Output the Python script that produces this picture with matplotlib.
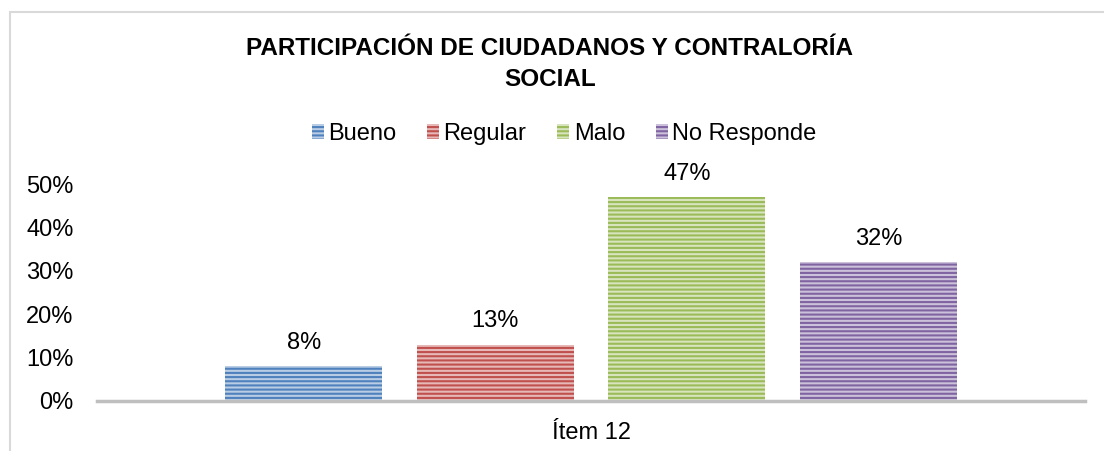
import matplotlib.pyplot as plt
from matplotlib.patches import Rectangle
from matplotlib.ticker import PercentFormatter

categories = ["Bueno", "Regular", "Malo", "No Responde"]
values = [0.08, 0.13, 0.47, 0.32]
labels = ["8%", "13%", "47%", "32%"]
group_label = "Ítem 12"

dark = ["#4F81BD", "#C0504D", "#9BBB59", "#8064A2"]
light = ["#B9CDE5", "#E6B9B8", "#D7E4BD", "#CCC1DA"]

plt.rcParams["font.family"] = ["Liberation Sans", "DejaVu Sans"]
plt.rcParams["hatch.linewidth"] = 1.5

fig = plt.figure(figsize=(11.04, 4.51), dpi=100)
ax = fig.add_axes([0.0879, 0.1109, 0.895, 0.481])

# chart area border (left and top only visible)
fig.patches.append(
    Rectangle((10 / 1104, -0.1), 1.2, 1 - 12 / 451 + 0.1, transform=fig.transFigure,
              fill=False, edgecolor="#D9D9D9", linewidth=1.5)
)

x = range(len(categories))
bars = ax.bar(x, values, width=0.82, color=light, edgecolor=dark,
              hatch="----", linewidth=0)
for b, name in zip(bars, categories):
    b.set_label(name)

for xi, v, t in zip(x, values, labels):
    ax.text(xi, v + 0.028, t, ha="center", va="bottom", fontsize=17)

ax.set_xlim(-1.08, 4.08)
ax.set_ylim(0, 0.5)
ax.set_yticks([0, 0.1, 0.2, 0.3, 0.4, 0.5])
ax.yaxis.set_major_formatter(PercentFormatter(1.0, decimals=0))
ax.tick_params(axis="y", length=0, labelsize=17, pad=17)
ax.set_xticks([1.5])
ax.set_xticklabels([group_label])
ax.tick_params(axis="x", length=0, labelsize=17, pad=15)

for s in ["top", "right", "left"]:
    ax.spines[s].set_visible(False)
ax.spines["bottom"].set_color("#BFBFBF")
ax.spines["bottom"].set_linewidth(2.5)

fig.text(0.498, 0.858, "PARTICIPACIÓN DE CIUDADANOS Y CONTRALORÍA\nSOCIAL",
         ha="center", va="center", fontsize=17.5, fontweight="bold",
         linespacing=1.4)

leg = fig.legend(handles=bars, labels=categories, loc="center",
                 bbox_to_anchor=(0.511, 0.703), ncol=4, frameon=False,
                 fontsize=17, handlelength=0.5, handleheight=0.6,
                 handletextpad=0.2, columnspacing=1.3)

fig.savefig("out.png", dpi=100)
